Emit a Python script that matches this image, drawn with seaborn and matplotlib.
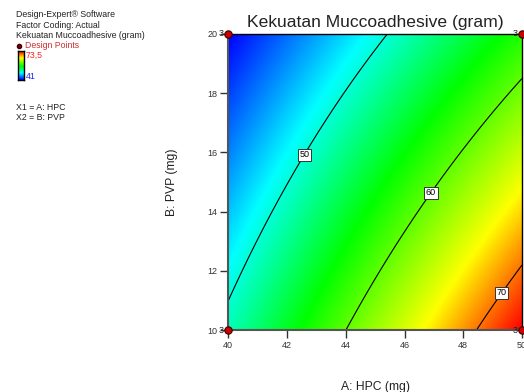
import numpy as np
import matplotlib
matplotlib.use("Agg")
import matplotlib.pyplot as plt
from matplotlib.colors import LinearSegmentedColormap
from matplotlib.lines import Line2D
import seaborn as sns
import pandas as pd

# ---- data ----
hpc_range = [40, 50]            # A: HPC (mg)
pvp_range = [10, 20]            # B: PVP (mg)
# mean response at the factorial corners (rows: PVP low/high, cols: HPC low/high)
corner_values = [[51.0, 73.5],
                 [41.0, 57.6]]
contour_levels = [50, 60, 70]
label_positions = [(42.45, 16.0), (46.8, 14.7), (49.25, 11.3)]
design_hpc = [40, 50, 40, 50]
design_pvp = [10, 10, 20, 20]
design_reps = ["3", "3", "3", "3"]
color_min, color_max = 41, 73.5
x_ticks = [40, 42, 44, 46, 48, 50]
y_ticks = [10, 12, 14, 16, 18, 20]
legend_lines = ["Design-Expert\u00ae Software", "Factor Coding: Actual",
                "Kekuatan Muccoadhesive (gram)"]
factor_lines = ["X1 = A: HPC", "X2 = B: PVP"]

sns.set_theme(style="white")
plt.rcParams['font.family'] = ['Liberation Sans', 'DejaVu Sans']

W, H = 524, 392
fig = plt.figure(figsize=(W / 100, H / 100), dpi=100)
ax = fig.add_axes([228.3 / W, 1 - 330.3 / H, 293.7 / W, 296.6 / H])

cmap = LinearSegmentedColormap.from_list(
    "de", [(0.0, "#0000ff"), (0.24, "#00ffff"), (0.477, "#00ff00"),
           (0.77, "#ffff00"), (1.0, "#ff0000")])

# 2FI (bilinear) model evaluated on a fine grid of the design space
a = np.linspace(hpc_range[0], hpc_range[1], 301)
b = np.linspace(pvp_range[0], pvp_range[1], 301)
A, B = np.meshgrid(a, b)
u = (A - hpc_range[0]) / (hpc_range[1] - hpc_range[0])
v = (B - pvp_range[0]) / (pvp_range[1] - pvp_range[0])
c = np.array(corner_values)
Z = (c[0, 0] * (1 - u) * (1 - v) + c[0, 1] * u * (1 - v)
     + c[1, 0] * (1 - u) * v + c[1, 1] * u * v)

ax.imshow(Z, origin="lower", extent=[*hpc_range, *pvp_range], cmap=cmap,
          vmin=color_min, vmax=color_max, aspect="auto", interpolation="bilinear")
cs = ax.contour(A, B, Z, levels=contour_levels, colors="black", linewidths=0.8)
labels = ax.clabel(cs, fmt="%d", inline=False, manual=label_positions, fontsize=6.5)
for t in labels:
    t.set_rotation(0)
    t.set_bbox(dict(boxstyle="square,pad=0.18", fc="white", ec="#333333", lw=0.7))
    t.set_color("black")

df = pd.DataFrame({"HPC": design_hpc, "PVP": design_pvp, "reps": design_reps})
sns.scatterplot(data=df, x="HPC", y="PVP", ax=ax, color="#cc0000",
                edgecolor="#3a0000", linewidth=0.8, s=28, clip_on=False, zorder=5,
                legend=False)
for _, r in df.iterrows():
    ax.annotate(r["reps"], (r["HPC"], r["PVP"]), xytext=(-3, 0),
                textcoords="offset points", ha="right", va="center",
                fontsize=6.5, color="#222222", annotation_clip=False, zorder=6)

ax.set_xlim(*hpc_range)
ax.set_ylim(*pvp_range)
ax.set_xticks(x_ticks)
ax.set_yticks(y_ticks)
ax.tick_params(axis="both", which="major", direction="out", length=6, width=1,
               labelsize=6.5, colors="#333333", pad=2, left=True, bottom=True)
for s in ["left", "bottom"]:
    ax.spines[s].set_color("#555555")
    ax.spines[s].set_linewidth(1.5)
for s in ["top", "right"]:
    ax.spines[s].set_color("black")
    ax.spines[s].set_linewidth(1.0)

ax.set_title("Kekuatan Muccoadhesive (gram)", fontsize=12.6, color="#222222", pad=5)
ax.set_xlabel("A: HPC (mg)", fontsize=8.7, color="#222222")
ax.set_ylabel("B: PVP (mg)", fontsize=8.7, color="#222222")
ax.xaxis.set_label_coords(0.5, -0.171)
ax.yaxis.set_label_coords(-0.171, 0.5)

# ---- left legend block ----
fs = 6.3
ys = [14.5, 25, 35.5]
for yy, txt in zip(ys, legend_lines):
    fig.text(16 / W, 1 - yy / H, txt, fontsize=fs, color="#222222", va="center")
fig.add_artist(Line2D([19 / W], [1 - 45.5 / H], marker="o", markersize=3,
                      color="#3a0000", markerfacecolor="#7a0000",
                      transform=fig.transFigure))
fig.text(25 / W, 1 - 45.5 / H, "Design Points", fontsize=fs, color="#d03030", va="center")

cax = fig.add_axes([17.5 / W, 1 - 80 / H, 6 / W, 29 / H])
grad = np.linspace(color_min, color_max, 100).reshape(-1, 1)
cax.imshow(grad, origin="lower", cmap=cmap, vmin=color_min, vmax=color_max, aspect="auto")
cax.set_xticks([]); cax.set_yticks([])
for s in cax.spines.values():
    s.set_color("black"); s.set_linewidth(1.0)
fig.text(26 / W, 1 - 55 / H, "73,5", fontsize=fs, color="#ff2020", va="center")
fig.text(26 / W, 1 - 76.5 / H, "41", fontsize=fs, color="#2020ff", va="center")

for yy, txt in zip([107, 117.5], factor_lines):
    fig.text(16 / W, 1 - yy / H, txt, fontsize=fs, color="#222222", va="center")

fig.savefig("out.png", dpi=100)
